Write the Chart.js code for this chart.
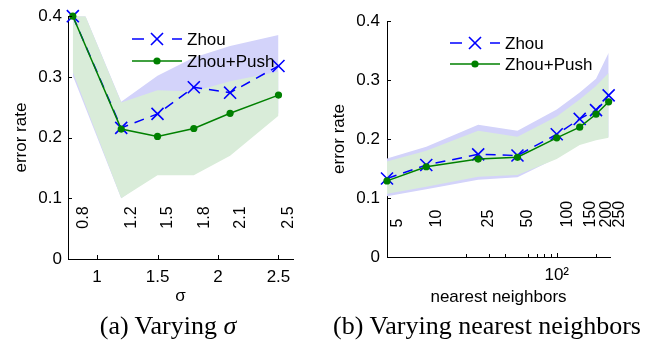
<!DOCTYPE html>
<html>
<head>
<meta charset="utf-8">
<script src="https://cdn.jsdelivr.net/npm/chart.js@4.4.1/dist/chart.umd.min.js"></script>
<style>
  body { margin: 0; background: #fff; }
  #page { position: relative; width: 660px; height: 341px; overflow: hidden; }
  .panel { position: absolute; top: 0; width: 330px; height: 341px; }
  .caption {
    position: absolute; top: 312px; width: 330px; text-align: center;
    font-family: "Liberation Serif", serif; font-size: 26px; line-height: 28px; color: #000;
  }
</style>
</head>
<body>
<div id="page">
  <div class="panel" style="left:0"><canvas id="sigmaChart" width="330" height="341"></canvas></div>
  <div class="panel" style="left:330px"><canvas id="neighborChart" width="330" height="341"></canvas></div>
  <div class="caption" style="left:3px">(a) Varying <i>σ</i></div>
  <div class="caption" style="left:322px">(b) Varying nearest neighbors</div>
</div>
<script>
// ---- panel (a): varying sigma ----
const sigmaValues = [0.8, 1.2, 1.5, 1.8, 2.1, 2.5];
const sigmaLabels = ['0.8', '1.2', '1.5', '1.8', '2.1', '2.5'];
const zhouSigma = [0.400, 0.216, 0.239, 0.283, 0.274, 0.318];
const pushSigma = [0.400, 0.214, 0.202, 0.215, 0.240, 0.270];
const zhouSigmaHigh = [0.45, 0.259, 0.302, 0.332, 0.351, 0.369];
const zhouSigmaLow = [0.302, 0.100, 0.142, 0.142, 0.174, 0.240];
const pushSigmaHigh = [0.45, 0.258, 0.278, 0.276, 0.293, 0.309];
const pushSigmaLow = [0.308, 0.100, 0.138, 0.138, 0.170, 0.236];
const sigmaTicks = [1, 1.5, 2, 2.5];

// ---- panel (b): varying nearest neighbors ----
const neighborValues = [5, 10, 25, 50, 100, 150, 200, 250];
const neighborLabels = ['5', '10', '25', '50', '100', '150', '200', '250'];
const zhouNeighbors = [0.133, 0.156, 0.174, 0.172, 0.208, 0.234, 0.249, 0.274];
const pushNeighbors = [0.129, 0.153, 0.166, 0.169, 0.202, 0.220, 0.242, 0.263];
const zhouNeighborsHigh = [0.167, 0.187, 0.224, 0.214, 0.250, 0.279, 0.302, 0.346];
const zhouNeighborsLow = [0.103, 0.115, 0.131, 0.135, 0.168, 0.192, 0.200, 0.204];
const pushNeighborsHigh = [0.162, 0.180, 0.214, 0.204, 0.238, 0.267, 0.290, 0.312];
const pushNeighborsLow = [0.107, 0.119, 0.136, 0.139, 0.166, 0.190, 0.198, 0.202];
const neighborMajorTicks = [100];
const neighborMinorTicks = [20, 30, 40, 60, 70, 80, 90, 200];

const errorTicks = [0, 0.1, 0.2, 0.3, 0.4];

const BLUE = '#0000ff';
const GREEN = '#008000';
const BLUE_BAND = '#d3d3fa';
const GREEN_BAND = '#d9ecd9';
const FONT = 'Liberation Sans, Arial, sans-serif';

Chart.defaults.font.family = FONT;
Chart.defaults.font.size = 17;
Chart.defaults.color = '#000';

function points(xs, ys) {
    return xs.map((x, i) => ({ x: x, y: ys[i] }));
}

function buildDatasets(xs, zhou, push, zhouHigh, zhouLow, pushHigh, pushLow) {
    const band = { borderWidth: 0, pointRadius: 0, tension: 0 };
    return [
        { label: 'Zhou+Push', data: points(xs, push), order: 0, borderColor: GREEN, borderWidth: 1.5,
          pointStyle: 'circle', pointRadius: 3.6, pointBackgroundColor: GREEN, pointBorderColor: GREEN,
          pointBorderWidth: 0, fill: false, clip: false },
        { label: 'Zhou', data: points(xs, zhou), order: 1, borderColor: BLUE, borderWidth: 1.5, borderDash: [10, 7],
          pointStyle: 'crossRot', pointRadius: 8.5, pointBorderColor: BLUE, pointBorderWidth: 1.6,
          fill: false, clip: false },
        Object.assign({ data: points(xs, pushHigh), order: 2, fill: '+1', backgroundColor: GREEN_BAND }, band),
        Object.assign({ data: points(xs, pushLow), order: 3, fill: false }, band),
        Object.assign({ data: points(xs, zhouHigh), order: 4, fill: '+1', backgroundColor: BLUE_BAND }, band),
        Object.assign({ data: points(xs, zhouLow), order: 5, fill: false }, band),
    ];
}

// inward ticks, rotated value labels and the legend
function decorations(cfg) {
    return {
        id: 'decorations',
        afterDraw(chart) {
            const { ctx, chartArea, scales } = chart;
            ctx.save();
            ctx.strokeStyle = '#000';
            ctx.lineWidth = 1;
            ctx.beginPath();
            cfg.yTicks.forEach(v => {
                const y = Math.round(scales.y.getPixelForValue(v)) + 0.5;
                ctx.moveTo(chartArea.left, y);
                ctx.lineTo(chartArea.left + 4, y);
            });
            cfg.xTicks.forEach(v => {
                const x = Math.round(scales.x.getPixelForValue(v)) + 0.5;
                ctx.moveTo(x, chartArea.bottom);
                ctx.lineTo(x, chartArea.bottom - 4);
            });
            (cfg.xMinor || []).forEach(v => {
                const x = Math.round(scales.x.getPixelForValue(v)) + 0.5;
                ctx.moveTo(x, chartArea.bottom);
                ctx.lineTo(x, chartArea.bottom - 3);
            });
            ctx.stroke();

            // rotated parameter labels
            ctx.fillStyle = '#000';
            ctx.font = '16px ' + FONT;
            ctx.textAlign = 'left';
            ctx.textBaseline = 'middle';
            cfg.labelX.forEach((v, i) => {
                const x = scales.x.getPixelForValue(v) + 10.5;
                const y = scales.y.getPixelForValue(0.05);
                ctx.save();
                ctx.translate(x, y);
                ctx.rotate(-Math.PI / 2);
                ctx.fillText(cfg.labels[i], 0, 0);
                ctx.restore();
            });

            // legend
            const lg = cfg.legend;
            ctx.font = '17px ' + FONT;
            // Zhou: dashed blue with x marker
            ctx.strokeStyle = BLUE;
            ctx.lineWidth = 1.5;
            ctx.beginPath();
            ctx.moveTo(lg.x0, lg.y0); ctx.lineTo(lg.x0 + 12, lg.y0);
            ctx.moveTo(lg.x1 - 10, lg.y0); ctx.lineTo(lg.x1, lg.y0);
            ctx.stroke();
            const mx = (lg.x0 + lg.x1) / 2;
            const r = 8.5 * Math.SQRT1_2;
            ctx.lineWidth = 1.6;
            ctx.beginPath();
            ctx.moveTo(mx - r, lg.y0 - r); ctx.lineTo(mx + r, lg.y0 + r);
            ctx.moveTo(mx - r, lg.y0 + r); ctx.lineTo(mx + r, lg.y0 - r);
            ctx.stroke();
            ctx.fillText('Zhou', lg.x1 + 5, lg.y0 + 1);
            // Zhou+Push: solid green with dot
            ctx.strokeStyle = GREEN;
            ctx.lineWidth = 1.5;
            ctx.beginPath();
            ctx.moveTo(lg.x0, lg.y1); ctx.lineTo(lg.x1, lg.y1);
            ctx.stroke();
            ctx.fillStyle = GREEN;
            ctx.beginPath();
            ctx.arc(mx, lg.y1, 3.6, 0, Math.PI * 2);
            ctx.fill();
            ctx.fillStyle = '#000';
            ctx.fillText('Zhou+Push', lg.x1 + 5, lg.y1 + 1);
            ctx.restore();
        }
    };
}

function axisOptions(opts) {
    return {
        type: opts.type,
        min: opts.min,
        max: opts.max,
        afterBuildTicks: scale => { scale.ticks = opts.ticks.map(v => ({ value: v })); },
        afterFit: opts.fit,
        grid: { display: false, drawTicks: false },
        border: { display: true, color: '#000', width: 1 },
        ticks: { padding: opts.pad, autoSkip: false, maxRotation: 0, callback: opts.format },
        title: { display: true, text: opts.title, padding: opts.titlePad },
    };
}

// panel (a)
new Chart(document.getElementById('sigmaChart'), {
    type: 'line',
    data: { datasets: buildDatasets(sigmaValues, zhouSigma, pushSigma,
        zhouSigmaHigh, zhouSigmaLow, pushSigmaHigh, pushSigmaLow) },
    options: {
        responsive: false,
        animation: false,
        devicePixelRatio: 1,
        layout: { padding: { left: 11, top: 16, right: 37, bottom: 30 } },
        plugins: { legend: { display: false }, tooltip: { enabled: false } },
        scales: {
            x: axisOptions({ type: 'linear', min: 0.76, max: 2.62, ticks: sigmaTicks, pad: 8,
                title: 'σ', titlePad: { top: 0, bottom: 4 },
                format: v => String(v), fit: s => { s.height = 52; } }),
            y: axisOptions({ type: 'linear', min: 0, max: 0.4, ticks: errorTicks, pad: 6,
                title: 'error rate', titlePad: { top: 0, bottom: 0 },
                format: v => String(Math.round(v * 10) / 10), fit: s => { s.width = 57; } }),
        }
    },
    plugins: [decorations({
        yTicks: [0.1, 0.2, 0.3, 0.4], xTicks: sigmaTicks,
        labelX: sigmaValues, labels: sigmaLabels,
        legend: { x0: 132, x1: 182, y0: 39, y1: 61 }
    })]
});

// panel (b)
new Chart(document.getElementById('neighborChart'), {
    type: 'line',
    data: { datasets: buildDatasets(neighborValues, zhouNeighbors, pushNeighbors,
        zhouNeighborsHigh, zhouNeighborsLow, pushNeighborsHigh, pushNeighborsLow) },
    options: {
        responsive: false,
        animation: false,
        devicePixelRatio: 1,
        layout: { padding: { left: 0, top: 21, right: 50, bottom: 30 } },
        plugins: { legend: { display: false }, tooltip: { enabled: false } },
        scales: {
            x: axisOptions({ type: 'logarithmic', min: 5, max: 256, ticks: neighborMajorTicks, pad: 8,
                title: 'nearest neighbors', titlePad: { top: 0, bottom: 3 },
                format: () => '10²', fit: s => { s.height = 54; } }),
            y: axisOptions({ type: 'linear', min: 0, max: 0.4, ticks: errorTicks, pad: 7,
                title: 'error rate', titlePad: { top: -1, bottom: 0 },
                format: v => String(Math.round(v * 10) / 10), fit: s => { s.width = 57; } }),
        }
    },
    plugins: [decorations({
        yTicks: [0.1, 0.2, 0.3, 0.4], xTicks: neighborMajorTicks, xMinor: neighborMinorTicks,
        labelX: neighborValues, labels: neighborLabels,
        legend: { x0: 120, x1: 170, y0: 43, y1: 64 }
    })]
});
</script>
</body>
</html>
